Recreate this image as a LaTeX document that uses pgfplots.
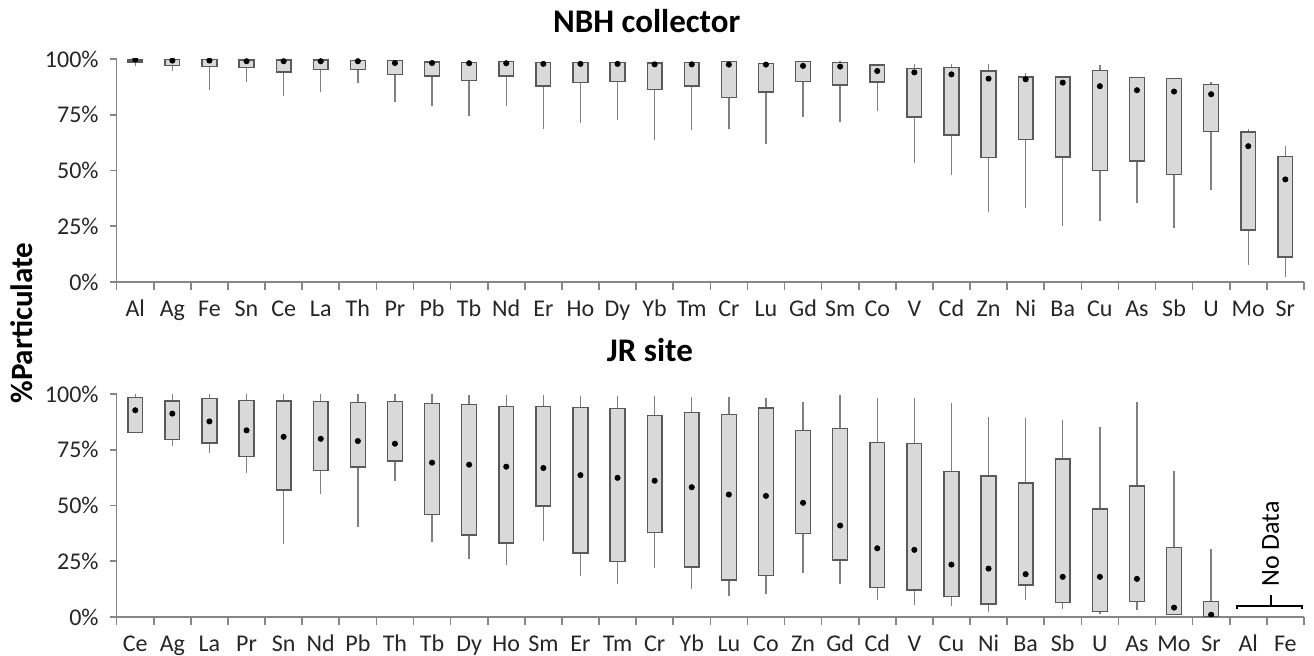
\documentclass[border=0pt]{standalone}
\usepackage{fontspec}
\setmainfont{Carlito}
\usepackage{pgfplots}
\usepackage{pgfplotstable}
\usepgfplotslibrary{statistics}
\pgfplotsset{compat=1.18}

\definecolor{boxfill}{HTML}{D9D9D9}
\definecolor{boxline}{HTML}{5A5A5A}
\definecolor{whisk}{HTML}{808080}
\definecolor{axcol}{HTML}{868686}

% NBH collector: lower whisker, lower quartile, dot, upper quartile, upper whisker
\pgfplotstableread{
el lw lq med uq uw
Al 97.0 98.7 99.8 99.5 100
Ag 94.6 97.0 99.3 99.9 100
Fe 86.1 96.6 99.3 99.7 100
Sn 89.6 96.1 99.0 99.6 99.7
Ce 83.6 94.2 99.0 99.6 99.7
La 85.1 95.2 99.0 99.6 99.7
Th 89.1 95.2 99.0 99.3 99.5
Pr 80.7 93.0 98.2 99.3 99.3
Pb 78.7 92.4 98.2 98.7 98.9
Tb 74.5 90.3 98.1 98.5 98.6
Nd 78.7 92.4 98.1 98.8 98.8
Er 68.8 87.9 97.8 98.5 98.5
Ho 71.5 89.4 97.8 98.5 98.5
Dy 72.7 90.0 97.8 98.5 98.5
Yb 63.7 86.3 97.6 98.2 98.2
Tm 68.2 87.9 97.6 98.4 98.4
Cr 68.8 82.8 97.5 98.8 99.2
Lu 61.9 85.2 97.5 97.9 97.9
Gd 73.9 90.0 96.9 98.8 99.3
Sm 71.9 88.4 96.6 98.5 99.1
Co 76.9 89.7 94.6 97.3 97.3
V  53.3 74.0 94.0 95.7 97.6
Cd 47.9 66.0 93.1 96.3 97.8
Zn 31.2 55.7 91.2 94.6 97.8
Ni 33.1 64.0 90.9 91.9 93.6
Ba 25.2 56.0 89.4 91.9 92.2
Cu 27.5 49.9 87.8 94.8 97.2
As 35.4 54.2 86.0 91.6 91.6
Sb 24.2 48.1 85.4 91.3 91.6
U  41.3 67.5 84.2 88.5 89.6
Mo 7.8 23.3 60.9 67.2 68.5
Sr 2.1 11.2 46.0 56.3 61.0
}\nbh

% JR site (no data for Al and Fe)
\pgfplotstableread{
el lw lq med uq uw
Ce 82.8 82.8 92.7 98.4 100
Ag 76.6 79.5 91.2 96.9 100
La 73.7 78.1 87.7 98.1 100
Pr 64.7 72.0 83.7 97.2 100
Sn 32.6 57.0 80.8 96.9 100
Nd 55.1 65.7 79.9 96.6 100
Pb 40.3 67.2 78.9 96.1 100
Th 61.1 69.9 77.7 96.6 100
Tb 33.5 46.0 69.2 95.7 100
Dy 26.2 36.8 68.3 95.2 99.7
Ho 23.2 33.1 67.4 94.3 99.7
Sm 34.1 49.7 66.8 94.3 99.7
Er 18.4 28.7 63.6 94.0 99.1
Tm 15.0 25.0 62.4 93.4 99.1
Cr 21.9 37.9 61.1 90.3 99.1
Yb 12.6 22.5 58.2 91.8 98.5
Lu 9.4 16.5 54.9 90.9 98.5
Co 10.3 18.7 54.3 93.7 98.2
Zn 19.9 37.4 51.2 83.7 96.4
Gd 15.0 25.6 41.0 84.6 99.7
Cd 7.8 13.3 30.8 78.3 98.2
V  5.5 12.1 30.1 77.7 98.2
Cu 4.9 9.3 23.5 65.3 96.0
Ni 2.1 5.8 21.7 63.3 89.8
Ba 7.5 14.4 19.2 60.0 89.2
Sb 3.6 6.4 18.0 70.8 88.3
U  1.3 2.4 18.0 48.4 85.0
As 3.0 7.0 17.1 58.7 96.4
Mo 0.7 1.2 4.2 31.1 65.6
Sr 0.0 0.0 1.0 7.0 30.4
}\jr

% one box from row #2 of table #1
\newcommand{\boxrow}[2]{%
  \pgfplotstablegetelem{#2}{lw}\of#1\let\vlw\pgfplotsretval
  \pgfplotstablegetelem{#2}{lq}\of#1\let\vlq\pgfplotsretval
  \pgfplotstablegetelem{#2}{med}\of#1\let\vmed\pgfplotsretval
  \pgfplotstablegetelem{#2}{uq}\of#1\let\vuq\pgfplotsretval
  \pgfplotstablegetelem{#2}{uw}\of#1\let\vuw\pgfplotsretval
  \edef\tmp{\noexpand\addplot[mark=none, boxplot prepared={draw position=#2,
      lower whisker=\vlw, lower quartile=\vlq, median=\vmed,
      upper quartile=\vuq, upper whisker=\vuw}] coordinates {};}%
  \tmp
}

\pgfplotsset{
  panel/.style={
    scale only axis,
    width=593.6pt, height=111.5pt,
    xmin=-0.5, xmax=31.5, ymin=0, ymax=100,
    axis x line*=bottom, axis y line*=left,
    axis line style={axcol, line width=0.8pt},
    xtick={0,...,31},
    major x tick style={draw=none},
    minor xtick={-0.5,0.5,...,31.5},
    minor tick length=4pt,
    minor x tick style={axcol, line width=0.8pt},
    ytick={0,25,50,75,100},
    major tick length=3.5pt,
    y tick style={axcol, line width=0.8pt},
    tick align=outside,
    yticklabel={\pgfmathprintnumber{\tick}\%},
    /pgf/number format/assume math mode=true,
    ticklabel style={font=\fontsize{12}{14}\selectfont, text=black!85},
    yticklabel style={xshift=-2pt},
    xticklabel style={text height=8.5pt, text depth=2.5pt, yshift=-1.5pt},
    boxplot/draw direction=y,
    boxplot/box extend=0.4,
    boxplot/whisker extend=0,
    boxplot/every box/.style={fill=boxfill, draw=boxline, line width=0.7pt},
    boxplot/every whisker/.style={draw=whisk, line width=0.7pt},
    boxplot/draw/median/.code={%
      \fill[black] (boxplot box cs:\pgfplotsboxplotvalue{median},0.5) circle[radius=1.3pt];},
  },
}

\begin{document}
\begin{tikzpicture}
\begin{axis}[panel, at={(0pt,0pt)},
  xticklabels={Al,Ag,Fe,Sn,Ce,La,Th,Pr,Pb,Tb,Nd,Er,Ho,Dy,Yb,Tm,Cr,Lu,Gd,Sm,Co,V,Cd,Zn,Ni,Ba,Cu,As,Sb,U,Mo,Sr}]
\pgfplotsinvokeforeach{0,...,31}{\boxrow{\nbh}{#1}}
\end{axis}

\begin{axis}[panel, at={(0pt,-167.5pt)},
  xticklabels={Ce,Ag,La,Pr,Sn,Nd,Pb,Th,Tb,Dy,Ho,Sm,Er,Tm,Cr,Yb,Lu,Co,Zn,Gd,Cd,V,Cu,Ni,Ba,Sb,U,As,Mo,Sr,Al,Fe}]
\pgfplotsinvokeforeach{0,...,29}{\boxrow{\jr}{#1}}
% no data bracket
\draw[black, line width=1pt] (axis cs:29.7,3.4) -- (axis cs:29.7,4.9)
  -- (axis cs:31.45,4.9) -- (axis cs:31.45,3.4);
\draw[black, line width=1pt] (axis cs:30.6,4.9) -- (axis cs:30.6,10);
\node[rotate=90, font=\fontsize{13}{15}\selectfont] at (axis cs:30.6,32.7) {No Data};
\end{axis}

\node[font=\bfseries\fontsize{16.5}{19}\selectfont] at (265pt,130.5pt) {NBH collector};
\node[font=\bfseries\fontsize{16.5}{19}\selectfont] at (266.6pt,-34pt) {JR site};
\node[rotate=90, font=\bfseries\fontsize{15.5}{18}\selectfont] at (-47.4pt,-20.5pt) {\%Particulate};

\pgfresetboundingbox
\path[use as bounding box] (-58.35pt,-187pt) rectangle (598.65pt,141pt);
\end{tikzpicture}
\end{document}
